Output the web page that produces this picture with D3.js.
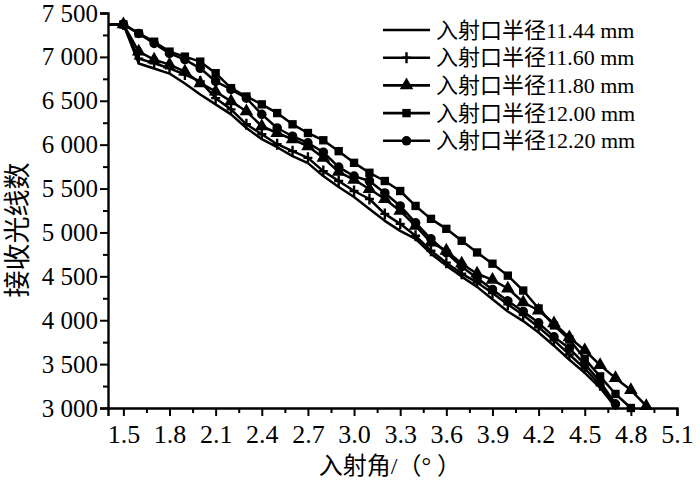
<!DOCTYPE html>
<html><head><meta charset="utf-8">
<script src="https://cdn.jsdelivr.net/npm/d3@7"></script>
<style>
html,body{margin:0;padding:0;background:#fff;}
svg text{font-family:"Liberation Serif","Noto Sans CJK SC",serif;fill:#000;}
</style></head>
<body><svg id="c" width="700" height="480"></svg>
<script>
const angles = [1.4,1.5,1.6,1.7,1.8,1.9,2.0,2.1,2.2,2.3,2.4,2.5,2.6,2.7,2.8,2.9,3.0,3.1,3.2,3.3,3.4,3.5,3.6,3.7,3.8,3.9,4.0,4.1,4.2,4.3,4.4,4.5,4.6,4.7,4.8,4.9];
const r1144 = [7370,7370,6924,6867,6810,6697,6572,6459,6345,6190,6062,5971,5869,5790,5642,5518,5404,5268,5132,5018,4928,4758,4622,4497,4380,4240,4100,3990,3860,3710,3550,3400,3230,3010];
const r1160 = [7370,7370,6980,6927,6870,6799,6720,6530,6402,6232,6118,6005,5926,5850,5699,5586,5472,5381,5211,5098,4962,4792,4656,4530,4430,4310,4180,4060,3920,3770,3610,3450,3260,3040];
const r1180 = [7370,7370,7060,6969,6912,6833,6700,6606,6493,6380,6210,6133,6062,5982,5850,5690,5600,5495,5381,5245,5075,4886,4792,4644,4530,4460,4361,4205,4111,3964,3805,3658,3488,3340,3204,3023];
const r1200 = [7370,7370,7267,7173,7060,7003,6946,6814,6644,6549,6459,6360,6232,6133,6050,5926,5793,5680,5586,5472,5302,5155,5041,4905,4772,4644,4508,4338,4134,3941,3780,3560,3360,3160,3000];
const r1220 = [7370,7370,7267,7154,7040,6969,6870,6720,6629,6530,6345,6190,6096,6020,5914,5744,5642,5586,5450,5302,5109,4928,4769,4610,4480,4350,4220,4100,3970,3810,3680,3500,3300,3045];
const seriesNames = ["入射口半径11.44 mm","入射口半径11.60 mm","入射口半径11.80 mm","入射口半径12.00 mm","入射口半径12.20 mm"];
const seriesMarkers = ["none","plus","triangle","square","circle"];
const seriesValues = [r1144, r1160, r1180, r1200, r1220];
const xTicks = [1.5,1.8,2.1,2.4,2.7,3.0,3.3,3.6,3.9,4.2,4.5,4.8,5.1];
const yTicks = [3000,3500,4000,4500,5000,5500,6000,6500,7000,7500];
const xTitle = "入射角/（°  ）";
const yTitle = "接收光线数";

const svg = d3.select("#c");
const x = d3.scaleLinear().domain([1.4, 5.1]).range([108, 677]);
const y = d3.scaleLinear().domain([3000, 7500]).range([408, 13]);

// axes
const gx = svg.append("g").attr("transform", "translate(0,408)");
const xMinor = d3.range(1.65, 5.1, 0.3);
gx.call(d3.axisBottom(x).tickValues(xMinor).tickSize(5).tickFormat(""));
gx.call(g => g.selectAll(".domain").remove());
const gx2 = svg.append("g").attr("transform", "translate(0,408)");
gx2.call(d3.axisBottom(x).tickValues(xTicks).tickSize(8).tickPadding(9).tickFormat(d3.format(".1f")));
gx2.selectAll("text").style("font-size", "26px");

const gy = svg.append("g").attr("transform", "translate(108,0)");
gy.call(d3.axisLeft(y).tickValues(d3.range(3250, 7500, 500)).tickSize(5).tickFormat(""));
gy.call(g => g.selectAll(".domain").remove());
const gy2 = svg.append("g").attr("transform", "translate(108,0)");
gy2.call(d3.axisLeft(y).tickValues(yTicks).tickSize(8).tickPadding(2)
  .tickFormat(v => Math.floor(v/1000) + " " + String(v % 1000).padStart(3, "0")));
gy2.selectAll("text").style("font-size", "25px");
svg.selectAll(".domain").attr("stroke-width", 2.4);
svg.selectAll(".tick line").attr("stroke-width", 2);

svg.append("text").attr("x", 390).attr("y", 474).attr("text-anchor", "middle")
  .style("font-size", "24px").text(xTitle);
svg.append("text").attr("transform", "translate(27,230) rotate(-90)").attr("text-anchor", "middle")
  .style("font-size", "27px").text(yTitle);

// lines
const line = d3.line().x((d, i) => x(angles[i])).y(d => y(d));
const sym = {
  triangle: d3.symbol().type(d3.symbolTriangle).size(80)(),
  square: d3.symbol().type(d3.symbolSquare).size(70)(),
  circle: d3.symbol().type(d3.symbolCircle).size(72)()
};
function drawMarker(g, m, cx, cy) {
  if (m === "none") return;
  if (m === "plus") {
    g.append("path").attr("d", `M${cx-4.5},${cy}H${cx+4.5}M${cx},${cy-5.5}V${cy+5.5}`)
      .attr("stroke", "#000").attr("stroke-width", 2.4).attr("fill", "none");
  } else {
    g.append("path").attr("d", sym[m]).attr("transform", `translate(${cx},${cy})`).attr("fill", "#000");
  }
}
seriesValues.forEach((vals, k) => {
  const g = svg.append("g");
  g.append("path").datum(vals).attr("d", line).attr("fill", "none")
    .attr("stroke", "#000").attr("stroke-width", 2.5).attr("stroke-linejoin", "round");
  vals.forEach((v, i) => { if (i > 0) drawMarker(g, seriesMarkers[k], x(angles[i]), y(v)); });
});

// legend
seriesNames.forEach((n, k) => {
  const ly = 30 + k * 27.7;
  const g = svg.append("g");
  g.append("line").attr("x1", 383).attr("x2", 430).attr("y1", ly).attr("y2", ly)
    .attr("stroke", "#000").attr("stroke-width", 2.6);
  drawMarker(g, seriesMarkers[k], 406.5, ly);
  g.append("text").attr("x", 436).attr("y", ly + 7.5).style("font-size", "22px").text(n);
});
</script></body></html>
